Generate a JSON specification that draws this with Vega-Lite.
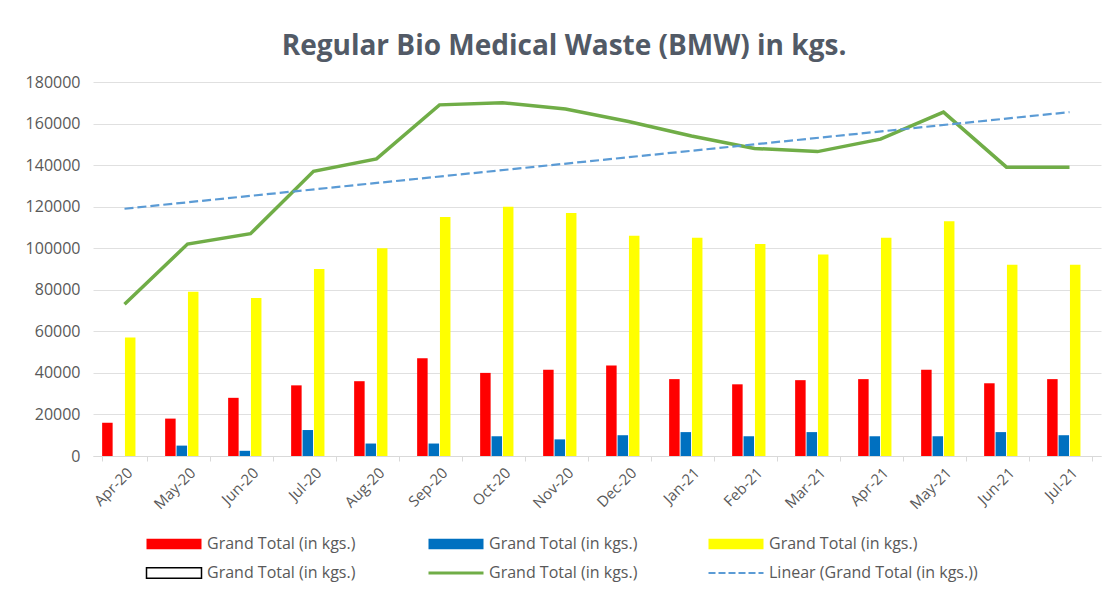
{
  "$schema": "https://vega.github.io/schema/vega-lite/v6.json",
  "autosize": {"type": "none"},
  "width": 1008,
  "height": 374,
  "padding": {"left": 93, "top": 82, "right": 9, "bottom": 133},
  "background": "#ffffff",
  "config": {
    "view": {"stroke": null},
    "font": "Open Sans"
  },
  "title": {
    "text": "Regular Bio Medical Waste (BMW) in kgs.",
    "fontSize": 28,
    "fontWeight": "bold",
    "color": "#525a66",
    "font": "Open Sans",
    "anchor": "middle",
    "frame": "group",
    "dx": -33,
    "offset": 13
  },
  "datasets": {
    "bars": [
      {"month": "Apr-20", "series": "a", "value": 16000},
      {"month": "Apr-20", "series": "b", "value": 0},
      {"month": "Apr-20", "series": "c", "value": 57000},
      {"month": "May-20", "series": "a", "value": 18000},
      {"month": "May-20", "series": "b", "value": 5000},
      {"month": "May-20", "series": "c", "value": 79000},
      {"month": "Jun-20", "series": "a", "value": 28000},
      {"month": "Jun-20", "series": "b", "value": 2500},
      {"month": "Jun-20", "series": "c", "value": 76000},
      {"month": "Jul-20", "series": "a", "value": 34000},
      {"month": "Jul-20", "series": "b", "value": 12500},
      {"month": "Jul-20", "series": "c", "value": 90000},
      {"month": "Aug-20", "series": "a", "value": 36000},
      {"month": "Aug-20", "series": "b", "value": 6000},
      {"month": "Aug-20", "series": "c", "value": 100000},
      {"month": "Sep-20", "series": "a", "value": 47000},
      {"month": "Sep-20", "series": "b", "value": 6000},
      {"month": "Sep-20", "series": "c", "value": 115000},
      {"month": "Oct-20", "series": "a", "value": 40000},
      {"month": "Oct-20", "series": "b", "value": 9500},
      {"month": "Oct-20", "series": "c", "value": 120000},
      {"month": "Nov-20", "series": "a", "value": 41500},
      {"month": "Nov-20", "series": "b", "value": 8000},
      {"month": "Nov-20", "series": "c", "value": 117000},
      {"month": "Dec-20", "series": "a", "value": 43500},
      {"month": "Dec-20", "series": "b", "value": 10000},
      {"month": "Dec-20", "series": "c", "value": 106000},
      {"month": "Jan-21", "series": "a", "value": 37000},
      {"month": "Jan-21", "series": "b", "value": 11500},
      {"month": "Jan-21", "series": "c", "value": 105000},
      {"month": "Feb-21", "series": "a", "value": 34500},
      {"month": "Feb-21", "series": "b", "value": 9500},
      {"month": "Feb-21", "series": "c", "value": 102000},
      {"month": "Mar-21", "series": "a", "value": 36500},
      {"month": "Mar-21", "series": "b", "value": 11500},
      {"month": "Mar-21", "series": "c", "value": 97000},
      {"month": "Apr-21", "series": "a", "value": 37000},
      {"month": "Apr-21", "series": "b", "value": 9500},
      {"month": "Apr-21", "series": "c", "value": 105000},
      {"month": "May-21", "series": "a", "value": 41500},
      {"month": "May-21", "series": "b", "value": 9500},
      {"month": "May-21", "series": "c", "value": 113000},
      {"month": "Jun-21", "series": "a", "value": 35000},
      {"month": "Jun-21", "series": "b", "value": 11500},
      {"month": "Jun-21", "series": "c", "value": 92000},
      {"month": "Jul-21", "series": "a", "value": 37000},
      {"month": "Jul-21", "series": "b", "value": 10000},
      {"month": "Jul-21", "series": "c", "value": 92000}
    ],
    "totals": [
      {"month": "Apr-20", "total": 73000},
      {"month": "May-20", "total": 102000},
      {"month": "Jun-20", "total": 107000},
      {"month": "Jul-20", "total": 137000},
      {"month": "Aug-20", "total": 143000},
      {"month": "Sep-20", "total": 169000},
      {"month": "Oct-20", "total": 170000},
      {"month": "Nov-20", "total": 167000},
      {"month": "Dec-20", "total": 161000},
      {"month": "Jan-21", "total": 154000},
      {"month": "Feb-21", "total": 148000},
      {"month": "Mar-21", "total": 146500},
      {"month": "Apr-21", "total": 152500},
      {"month": "May-21", "total": 165500},
      {"month": "Jun-21", "total": 139000},
      {"month": "Jul-21", "total": 139000}
    ],
    "trend": [
      {"month": "Apr-20", "trend": 119000},
      {"month": "Jul-21", "trend": 165500}
    ]
  },
  "encoding": {
    "x": {
      "field": "month",
      "type": "nominal",
      "sort": null,
      "scale": {
        "domain": ["Apr-20","May-20","Jun-20","Jul-20","Aug-20","Sep-20","Oct-20","Nov-20","Dec-20","Jan-21","Feb-21","Mar-21","Apr-21","May-21","Jun-21","Jul-21"],
        "paddingInner": 0.29,
        "paddingOuter": 0.145
      },
      "axis": {
        "title": null,
        "labelAngle": -45,
        "labelFontSize": 15,
        "labelColor": "#595959",
        "labelPadding": 4,
        "domainColor": "#d9d9d9",
        "tickColor": "#d9d9d9",
        "tickBand": "extent",
        "tickSize": 5,
        "grid": false
      }
    }
  },
  "layer": [
    {
      "data": {"name": "bars"},
      "mark": {"type": "bar"},
      "encoding": {
        "xOffset": {
          "field": "series",
          "type": "nominal",
          "scale": {"domain": ["a","b","c","d"], "paddingInner": 0.08}
        },
        "y": {
          "field": "value",
          "type": "quantitative",
          "scale": {"domain": [0, 180000], "nice": false},
          "axis": {
            "title": null,
            "values": [0,20000,40000,60000,80000,100000,120000,140000,160000,180000],
            "format": "d",
            "grid": true,
            "gridColor": "#e0e0e0",
            "domain": false,
            "ticks": false,
            "labelFontSize": 16,
            "labelColor": "#595959",
            "labelPadding": 13
          }
        },
        "color": {
          "field": "series",
          "type": "nominal",
          "scale": {
            "domain": ["a","b","c","d","e","f"],
            "range": ["#ff0000","#0070c0","#ffff00","#000000","#70ad47","#5b9bd5"]
          },
          "legend": {
            "orient": "none",
            "legendX": 73,
            "legendY": 454,
            "direction": "horizontal",
            "columns": 3,
            "title": null,
            "symbolSize": 3025,
            "symbolType": "M-1,-0.19H1V0.19H-1Z",
            "labelFontSize": 16,
            "labelColor": "#595959",
            "labelOffset": 25,
            "labelLimit": 300,
            "columnPadding": 66,
            "rowPadding": 12,
            "labelExpr": "datum.value === 'f' ? 'Linear (Grand Total (in kgs.))' : 'Grand Total (in kgs.)'",
            "encode": {
              "symbols": {
                "update": {
                  "shape": {"signal": "(datum.value === 'e' || datum.value === 'f') ? 'M-1,0H1' : 'M-1,-0.19H1V0.19H-1Z'"},
                  "fillOpacity": {"signal": "datum.value === 'd' ? 0 : 1"},
                  "strokeWidth": {"signal": "datum.value === 'e' ? 3 : (datum.value === 'f' ? 2 : (datum.value === 'd' ? 1.5 : 0))"},
                  "strokeDash": {"signal": "datum.value === 'f' ? [7, 3] : null"},
                  "opacity": {"value": 1},
                  "strokeOpacity": {"value": 1}
                }
              }
            }
          }
        }
      }
    },
    {
      "data": {"name": "totals"},
      "mark": {"type": "line", "strokeWidth": 3.5},
      "encoding": {
        "y": {"field": "total", "type": "quantitative"},
        "color": {"datum": "e"}
      }
    },
    {
      "data": {"name": "trend"},
      "mark": {"type": "line", "strokeWidth": 2.2, "strokeDash": [9, 4]},
      "encoding": {
        "y": {"field": "trend", "type": "quantitative"},
        "color": {"datum": "f"}
      }
    }
  ]
}
